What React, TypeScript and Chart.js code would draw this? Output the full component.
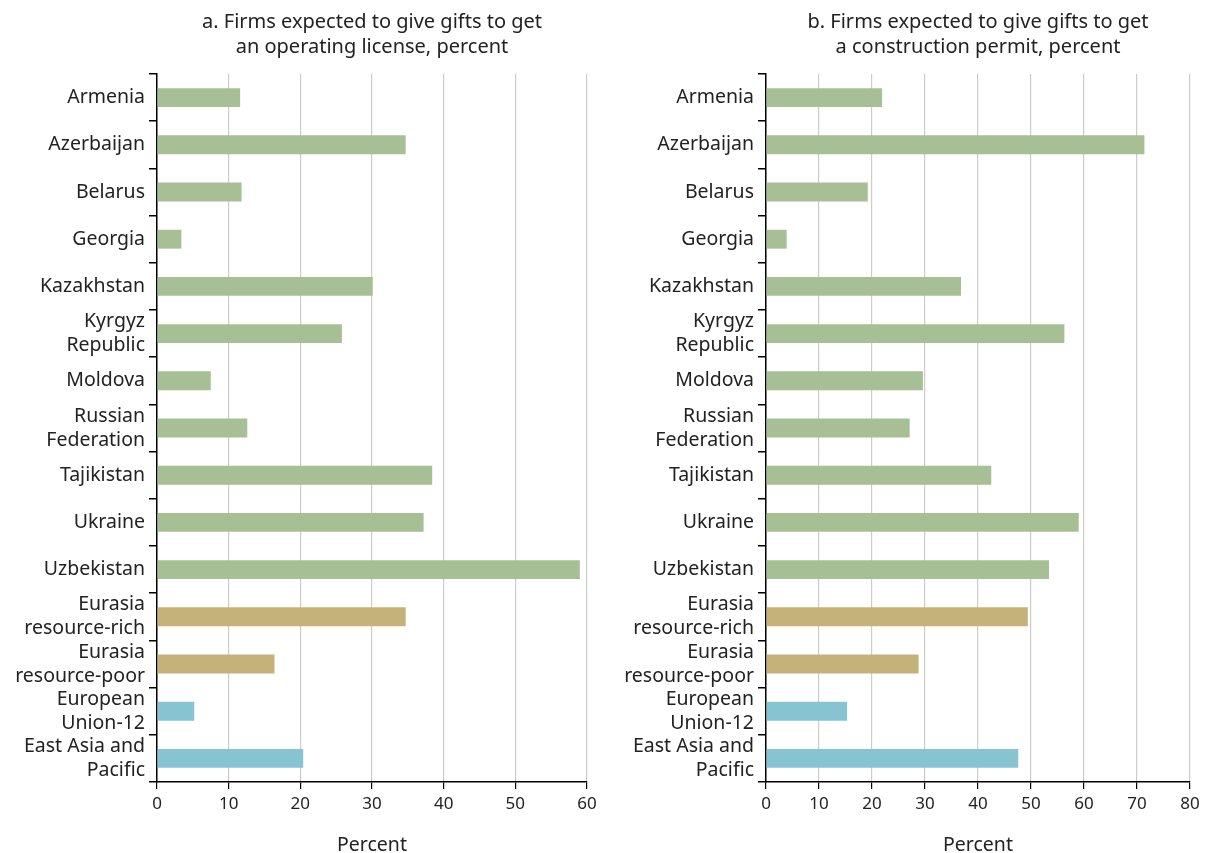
import React, { useEffect, useRef } from "react";
import { Chart, registerables } from "chart.js";

Chart.register(...registerables);

const categories: (string | string[])[] = [
  "Armenia",
  "Azerbaijan",
  "Belarus",
  "Georgia",
  "Kazakhstan",
  ["Kyrgyz", "Republic"],
  "Moldova",
  ["Russian", "Federation"],
  "Tajikistan",
  "Ukraine",
  "Uzbekistan",
  ["Eurasia", "resource-rich"],
  ["Eurasia", "resource-poor"],
  ["European", "Union-12"],
  ["East Asia and", "Pacific"],
];

const operatingLicense = [11.6, 34.7, 11.8, 3.4, 30.1, 25.8, 7.5, 12.6, 38.4, 37.2, 59.0, 34.7, 16.4, 5.2, 20.4];
const constructionPermit = [21.9, 71.4, 19.2, 3.9, 36.8, 56.3, 29.6, 27.1, 42.5, 59.0, 53.4, 49.4, 28.8, 15.3, 47.6];

const GREEN = "#A6BF95";
const TAN = "#C5B27B";
const BLUE = "#87C4D2";
const barColors = [
  GREEN, GREEN, GREEN, GREEN, GREEN, GREEN, GREEN, GREEN, GREEN, GREEN, GREEN,
  TAN, TAN, BLUE, BLUE,
];

const titleA = ["a. Firms expected to give gifts to get", "an operating license, percent"];
const titleB = ["b. Firms expected to give gifts to get", "a construction permit, percent"];
const axisTitle = "Percent";

const FONT = "'Noto Sans', sans-serif";

type PanelProps = {
  values: number[];
  title: string[];
  xMax: number;
  yWidth: number;
  rightPad: number;
};

function Panel({ values, title, xMax, yWidth, rightPad }: PanelProps) {
  const ref = useRef<HTMLCanvasElement | null>(null);
  useEffect(() => {
    if (!ref.current) return;
    const chart = new Chart(ref.current, {
      type: "bar",
      data: {
        labels: categories,
        datasets: [
          {
            data: values,
            backgroundColor: barColors,
            borderWidth: 0,
            barPercentage: 0.4,
            categoryPercentage: 1.0,
          },
        ],
      },
      options: {
        indexAxis: "y",
        animation: false,
        responsive: false,
        maintainAspectRatio: false,
        layout: { padding: { left: 0, right: rightPad, top: 0, bottom: 0 } },
        plugins: {
          legend: { display: false },
          tooltip: { enabled: false },
          title: {
            display: true,
            text: title,
            fullSize: false,
            color: "#222",
            font: { family: FONT, size: 20, weight: "normal", lineHeight: 1.25 },
            padding: { top: 10, bottom: 14 },
          },
        },
        scales: {
          x: {
            min: 0,
            max: xMax,
            afterFit: (scale: any) => {
              scale.height = 71;
            },
            ticks: {
              stepSize: 10,
              color: "#222",
              font: { family: FONT, size: 17 },
              padding: 5,
            },
            grid: {
              color: "#cccccc",
              lineWidth: 1.2,
              tickColor: "#000",
              tickLength: 7,
              drawTicks: true,
            },
            border: { display: true, color: "#000", width: 1.5 },
            title: {
              display: true,
              text: axisTitle,
              color: "#222",
              font: { family: FONT, size: 19.5 },
              padding: { top: 0, bottom: -4 },
            },
          },
          y: {
            offset: true,
            afterFit: (scale: any) => {
              scale.width = yWidth;
            },
            ticks: {
              color: "#222",
              font: { family: FONT, size: 19.5, lineHeight: 1.23 },
              padding: 4,
              autoSkip: false,
            },
            grid: {
              offset: true,
              drawOnChartArea: false,
              drawTicks: true,
              tickLength: 8,
              color: "#000",
              lineWidth: 1.5,
            },
            border: { display: true, color: "#000", width: 1.5 },
          },
        },
      } as any,
    });
    return () => chart.destroy();
  }, []);
  return <canvas ref={ref} width={603} height={853} style={{ display: "block", width: 603, height: 853 }} />;
}

export default function App() {
  return (
    <div style={{ position: "absolute", left: 0, top: 0, width: 1207, height: 853, background: "#fff", display: "flex" }}>
      <Panel values={operatingLicense} title={titleA} xMax={60} yWidth={157} rightPad={16} />
      <div style={{ width: 604 }}>
        <Panel values={constructionPermit} title={titleB} xMax={80} yWidth={163} rightPad={16} />
      </div>
    </div>
  );
}
